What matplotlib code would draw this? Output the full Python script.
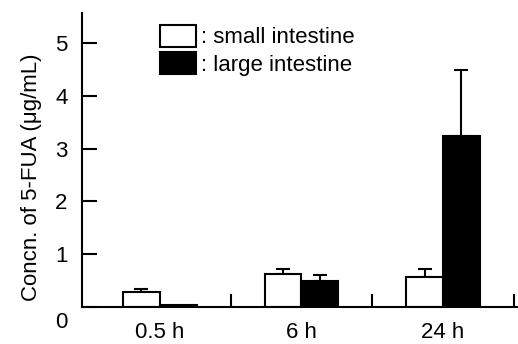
import matplotlib
matplotlib.use("Agg")
import matplotlib.pyplot as plt
from matplotlib.patches import Patch
from matplotlib.transforms import ScaledTranslation
import numpy as np

plt.rcParams['font.family'] = ['Liberation Sans', 'DejaVu Sans']

categories = ["0.5 h", "6 h", "24 h"]
small_vals = [0.27, 0.615, 0.56]
small_err = [0.07, 0.095, 0.15]
large_vals = [0.04, 0.49, 3.23]
large_err = [0.0, 0.11, 1.25]
yticks = [0, 1, 2, 3, 4, 5]

FS = 16
fig = plt.figure(figsize=(5.18, 3.44), dpi=100)
ax = fig.add_axes([82/518, 37.3/344, 436/518, 293.7/344])

x = np.arange(len(categories))
w = 0.26
lw = 1.5
ax.bar(x - w/2, small_vals, w, color='white', edgecolor='black', linewidth=lw, zorder=2)
ax.bar(x + w/2, large_vals, w, color='black', edgecolor='black', linewidth=lw, zorder=2)
ax.errorbar(x - w/2, small_vals, yerr=[np.zeros(3), small_err], fmt='none',
            ecolor='black', elinewidth=lw, capsize=4.7, capthick=lw, zorder=1)
le = np.array(large_err)
mask = le > 0
ax.errorbar((x + w/2)[mask], np.array(large_vals)[mask], yerr=[np.zeros(mask.sum()), le[mask]],
            fmt='none', ecolor='black', elinewidth=lw, capsize=4.7, capthick=lw, zorder=1)

ax.set_xlim(-0.55, 2.53)
ax.set_ylim(0, 5.57)
for s in ['top', 'right']:
    ax.spines[s].set_visible(False)
for s in ['left', 'bottom']:
    ax.spines[s].set_linewidth(lw)

ax.set_yticks(yticks)
ax.set_yticklabels([str(t) for t in yticks])
ax.tick_params(axis='y', direction='in', length=10.8, width=lw, pad=10.5, labelsize=FS)
lab0 = ax.get_yticklabels()[0]
lab0.set_transform(lab0.get_transform() + ScaledTranslation(0, -0.13, fig.dpi_scale_trans))

ax.set_xticks(x)
ax.set_xticklabels(categories)
ax.tick_params(axis='x', which='major', length=0, pad=11, labelsize=FS)
ax.set_xticks([0.5, 1.5, 2.5], minor=True)
ax.tick_params(axis='x', which='minor', direction='in', length=9.4, width=lw)

ax.set_ylabel("Concn. of 5-FUA (\u03bcg/mL)", fontsize=FS)
ax.yaxis.set_label_coords(-0.092, 0.44)

handles = [Patch(facecolor='white', edgecolor='black', linewidth=lw),
           Patch(facecolor='black', edgecolor='black', linewidth=lw)]
ax.legend(handles, [": small intestine", ": large intestine"], loc='upper left',
          bbox_to_anchor=(0.18, 0.96), frameon=False, fontsize=FS,
          handlelength=1.62, handleheight=1.13, handletextpad=0.2,
          labelspacing=0.18, borderaxespad=0, borderpad=0)

fig.savefig("out.png", dpi=100)
